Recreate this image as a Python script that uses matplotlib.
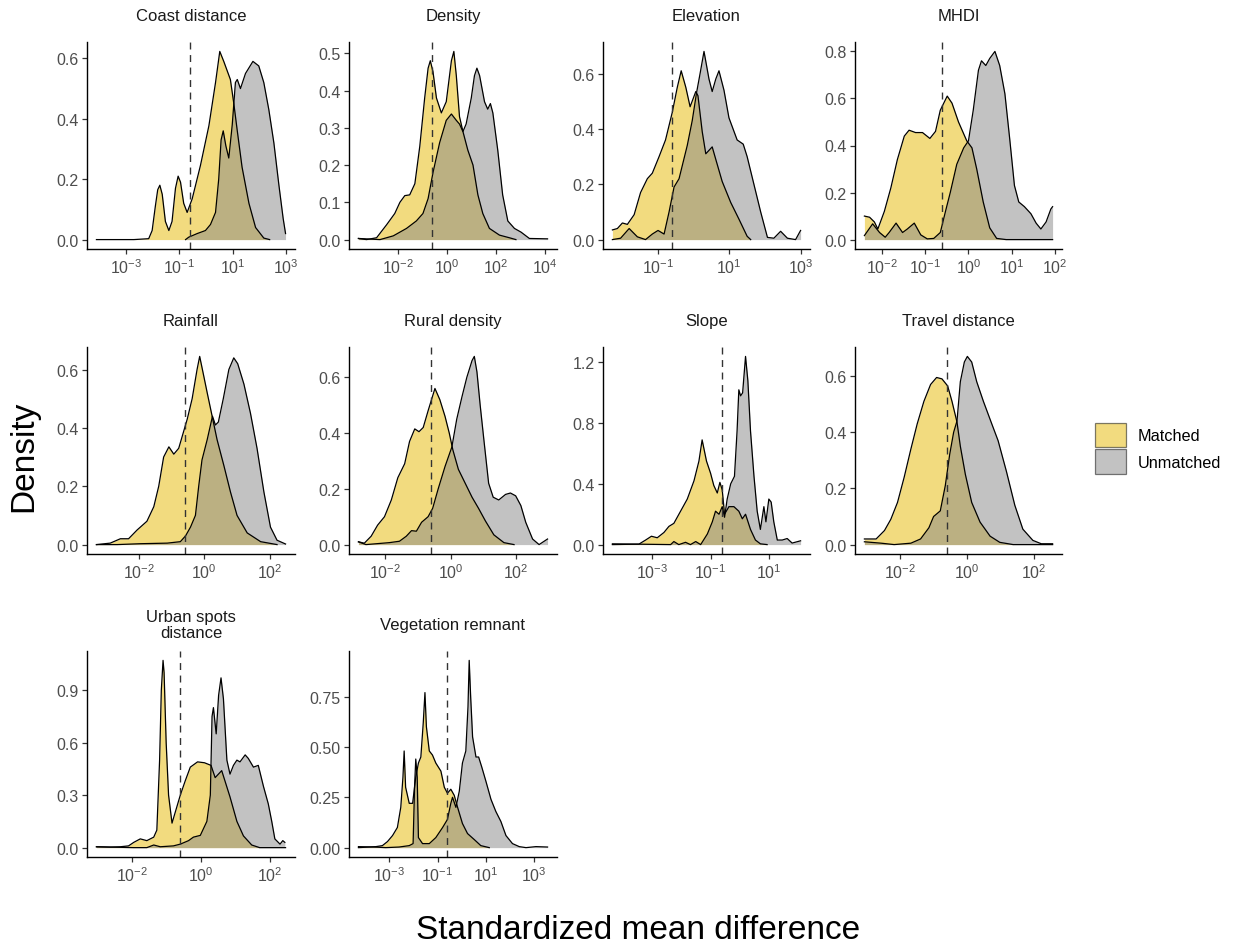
import matplotlib
matplotlib.use("Agg")
import matplotlib.pyplot as plt
import numpy as np
from matplotlib.patches import Patch

plt.rcParams['font.family'] = ['Liberation Sans', 'DejaVu Sans']
plt.rcParams['mathtext.fontset'] = 'custom'
plt.rcParams['mathtext.rm'] = 'Liberation Sans'
plt.rcParams['mathtext.it'] = 'Liberation Sans:italic'
plt.rcParams['mathtext.bf'] = 'Liberation Sans:bold'

# x values are log10(standardized mean difference), y values are density
coast_m_x = [-4.13, -2.72, -2.16, -2.03, -1.91, -1.82, -1.74, -1.65, -1.53, -1.40, -1.28, -1.15, -1.05, -0.96, -0.84,
             -0.71, -0.52, -0.21, 0.11, 0.36, 0.52, 0.67, 0.92, 1.05, 1.18, 1.36, 1.62, 1.87, 2.18, 2.40]
coast_m_y = [0.0, 0.0, 0.003, 0.03, 0.11, 0.165, 0.18, 0.15, 0.06, 0.03, 0.06, 0.17, 0.21, 0.19, 0.12,
             0.09, 0.135, 0.245, 0.377, 0.52, 0.623, 0.59, 0.53, 0.45, 0.36, 0.24, 0.12, 0.04, 0.005, 0.0]
coast_u_x = [-0.77, -0.65, -0.33, -0.02, 0.17, 0.36, 0.48, 0.57, 0.65, 0.75, 0.86, 0.99, 1.11, 1.18, 1.30, 1.49,
             1.77, 1.99, 2.18, 2.37, 2.56, 2.75, 2.91, 3.00]
coast_u_y = [0.0, 0.008, 0.02, 0.03, 0.05, 0.09, 0.2, 0.33, 0.36, 0.31, 0.27, 0.38, 0.52, 0.53, 0.50, 0.55,
             0.59, 0.575, 0.52, 0.43, 0.32, 0.18, 0.07, 0.02]

dens_m_x = [-3.62, -3.29, -2.88, -2.47, -2.14, -1.93, -1.73, -1.53, -1.32, -1.12, -0.92, -0.78, -0.69, -0.58, -0.44,
            -0.24, -0.04, 0.17, 0.27, 0.37, 0.50, 0.64, 0.84, 1.05, 1.25, 1.45, 1.72, 2.13, 2.53, 2.80]
dens_m_y = [0.003, 0.0, 0.005, 0.04, 0.07, 0.1, 0.118, 0.12, 0.15, 0.25, 0.38, 0.46, 0.48, 0.45, 0.38,
            0.34, 0.37, 0.48, 0.505, 0.44, 0.33, 0.29, 0.24, 0.2, 0.12, 0.07, 0.03, 0.012, 0.005, 0.0]
dens_u_x = [-3.62, -2.74, -2.20, -1.66, -1.26, -0.99, -0.78, -0.58, -0.31, -0.04, 0.17, 0.37, 0.50, 0.64, 0.77,
            0.98, 1.11, 1.21, 1.32, 1.52, 1.65, 1.76, 1.86, 2.06, 2.26, 2.47, 2.74, 3.01, 3.35, 4.09]
dens_u_y = [0.003, 0.0, 0.01, 0.03, 0.05, 0.07, 0.11, 0.18, 0.26, 0.32, 0.337, 0.32, 0.31, 0.29, 0.31,
            0.38, 0.44, 0.46, 0.44, 0.37, 0.35, 0.365, 0.34, 0.24, 0.12, 0.05, 0.03, 0.02, 0.003, 0.002]

elev_m_x = [-2.28, -2.14, -2.0, -1.86, -1.67, -1.49, -1.30, -1.16, -0.97, -0.79, -0.60, -0.46, -0.35, -0.22, -0.10,
            0.06, 0.12, 0.24, 0.34, 0.52, 0.62, 0.80, 1.04, 1.27, 1.50, 1.60]
elev_m_y = [0.035, 0.04, 0.06, 0.055, 0.09, 0.17, 0.22, 0.24, 0.30, 0.36, 0.46, 0.55, 0.61, 0.55, 0.48,
            0.535, 0.52, 0.39, 0.31, 0.335, 0.29, 0.21, 0.134, 0.074, 0.012, 0.0]
elev_u_x = [-2.28, -2.05, -1.81, -1.58, -1.35, -1.16, -1.0, -0.83, -0.69, -0.55, -0.41, -0.18, -0.04, 0.08, 0.18,
            0.29, 0.43, 0.52, 0.62, 0.71, 0.85, 0.99, 1.22, 1.39, 1.50, 1.69, 1.88, 2.07, 2.25, 2.44, 2.63, 2.86, 3.0]
elev_u_y = [0.0, 0.005, 0.04, 0.01, 0.0, 0.02, 0.033, 0.02, 0.1, 0.19, 0.22, 0.34, 0.43, 0.53, 0.6,
            0.68, 0.58, 0.535, 0.58, 0.61, 0.54, 0.44, 0.36, 0.345, 0.3, 0.2, 0.1, 0.008, 0.005, 0.03, 0.005, 0.0, 0.033]

mhdi_m_x = [-2.40, -2.28, -2.17, -2.09, -1.94, -1.79, -1.64, -1.48, -1.37, -1.22, -1.06, -0.89, -0.76, -0.65, -0.49,
            -0.38, -0.23, -0.04, 0.08, 0.19, 0.34, 0.49, 0.65, 0.87, 1.94]
mhdi_m_y = [0.10, 0.095, 0.075, 0.045, 0.12, 0.22, 0.34, 0.44, 0.465, 0.455, 0.455, 0.43, 0.46, 0.55, 0.61,
            0.58, 0.5, 0.42, 0.39, 0.3, 0.16, 0.05, 0.005, 0.0, 0.0]
mhdi_u_x = [-2.40, -2.21, -2.05, -1.92, -1.83, -1.67, -1.52, -1.41, -1.25, -1.10, -0.95, -0.80, -0.65, -0.53, -0.42,
            -0.27, -0.11, 0.0, 0.11, 0.23, 0.30, 0.40, 0.49, 0.61, 0.72, 0.84, 0.95, 1.06, 1.16, 1.29, 1.44, 1.56,
            1.67, 1.79, 1.90, 1.94]
mhdi_u_y = [0.017, 0.067, 0.03, 0.01, 0.03, 0.07, 0.03, 0.045, 0.07, 0.02, 0.003, 0.005, 0.03, 0.12, 0.2,
            0.32, 0.39, 0.42, 0.55, 0.72, 0.76, 0.74, 0.77, 0.80, 0.74, 0.62, 0.43, 0.23, 0.16, 0.14, 0.11, 0.07,
            0.045, 0.075, 0.13, 0.14]

rain_m_x = [-3.29, -2.87, -2.56, -2.31, -2.05, -1.75, -1.54, -1.39, -1.24, -1.08, -0.93, -0.78, -0.65, -0.52, -0.37,
            -0.22, -0.14, -0.02, 0.09, 0.24, 0.39, 0.60, 0.80, 1.0, 1.31, 1.72, 2.22]
rain_m_y = [0.0, 0.005, 0.02, 0.02, 0.05, 0.08, 0.13, 0.2, 0.3, 0.335, 0.31, 0.33, 0.38, 0.43, 0.5,
            0.6, 0.645, 0.58, 0.52, 0.44, 0.36, 0.27, 0.18, 0.1, 0.04, 0.01, 0.0]
rain_u_x = [-3.29, -2.66, -1.95, -1.13, -0.73, -0.57, -0.42, -0.27, -0.17, -0.07, 0.09, 0.25, 0.34, 0.43, 0.58,
            0.75, 0.90, 1.02, 1.21, 1.41, 1.61, 1.82, 2.02, 2.22, 2.48]
rain_u_y = [0.0, 0.0, 0.003, 0.005, 0.01, 0.03, 0.06, 0.1, 0.2, 0.29, 0.36, 0.44, 0.41, 0.42, 0.5,
            0.6, 0.64, 0.62, 0.55, 0.45, 0.33, 0.18, 0.06, 0.015, 0.002]

rural_m_x = [-2.83, -2.65, -2.44, -2.24, -2.03, -1.82, -1.62, -1.41, -1.26, -1.10, -0.97, -0.84, -0.69, -0.48, -0.33,
             -0.17, -0.04, 0.07, 0.24, 0.45, 0.66, 0.86, 1.07, 1.33, 1.64, 1.95]
rural_m_y = [0.01, 0.005, 0.03, 0.07, 0.1, 0.16, 0.24, 0.29, 0.37, 0.415, 0.405, 0.42, 0.48, 0.56, 0.52,
             0.46, 0.4, 0.34, 0.27, 0.22, 0.17, 0.13, 0.085, 0.035, 0.007, 0.0]
rural_u_x = [-2.83, -2.60, -2.29, -1.88, -1.57, -1.36, -1.20, -1.05, -0.89, -0.69, -0.55, -0.38, -0.17, 0.04, 0.19,
             0.35, 0.50, 0.66, 0.73, 0.81, 0.91, 1.02, 1.17, 1.31, 1.48, 1.69, 1.84, 2.0, 2.16, 2.31, 2.52, 2.72, 2.98]
rural_u_y = [0.01, 0.0, 0.003, 0.007, 0.012, 0.03, 0.05, 0.048, 0.08, 0.1, 0.13, 0.2, 0.28, 0.35, 0.45,
             0.53, 0.6, 0.66, 0.675, 0.62, 0.5, 0.38, 0.22, 0.17, 0.16, 0.18, 0.185, 0.175, 0.14, 0.08, 0.02, 0.0, 0.02]

slope_m_x = [-4.37, -3.46, -3.23, -3.03, -2.83, -2.60, -2.43, -2.26, -2.03, -1.80, -1.57, -1.40, -1.29, -1.14, -1.0,
             -0.89, -0.77, -0.68, -0.60, -0.52, -0.37, -0.20, -0.03, 0.09, 0.20, 0.37, 0.54, 0.71, 0.94]
slope_m_y = [0.0, 0.003, 0.03, 0.055, 0.045, 0.08, 0.12, 0.14, 0.22, 0.3, 0.42, 0.55, 0.69, 0.55, 0.47,
             0.39, 0.34, 0.41, 0.36, 0.2, 0.25, 0.25, 0.22, 0.17, 0.2, 0.1, 0.03, 0.005, 0.0]
slope_u_x = [-4.37, -2.37, -2.26, -2.09, -1.86, -1.69, -1.51, -1.34, -1.11, -0.94, -0.83, -0.71, -0.60, -0.52, -0.43,
             -0.31, -0.18, -0.09, -0.03, 0.03, 0.10, 0.20, 0.28, 0.37, 0.49, 0.60, 0.71, 0.83, 0.90, 1.0, 1.08, 1.17,
             1.29, 1.46, 1.63, 1.80, 2.09]
slope_u_y = [0.005, 0.0, 0.02, 0.0, 0.015, 0.0, 0.02, 0.0, 0.07, 0.15, 0.22, 0.2, 0.25, 0.18, 0.3,
             0.4, 0.45, 0.75, 1.02, 0.98, 1.0, 1.24, 1.08, 0.75, 0.45, 0.22, 0.1, 0.25, 0.15, 0.3, 0.28, 0.15,
             0.03, 0.03, 0.04, 0.01, 0.025]

travel_m_x = [-3.07, -2.72, -2.47, -2.28, -2.08, -1.88, -1.68, -1.49, -1.29, -1.09, -0.91, -0.75, -0.58, -0.45, -0.30,
              -0.20, -0.05, 0.14, 0.39, 0.69, 0.98, 1.38, 2.56]
travel_m_y = [0.02, 0.02, 0.05, 0.09, 0.15, 0.24, 0.34, 0.43, 0.51, 0.57, 0.595, 0.59, 0.565, 0.51, 0.436,
              0.35, 0.25, 0.15, 0.08, 0.03, 0.008, 0.0, 0.0]
travel_u_x = [-3.07, -2.57, -2.18, -1.68, -1.39, -1.14, -1.0, -0.80, -0.65, -0.52, -0.40, -0.30, -0.20, -0.08, 0.01,
              0.14, 0.29, 0.49, 0.74, 0.93, 1.18, 1.43, 1.67, 1.97, 2.22, 2.56]
travel_u_y = [0.01, 0.005, 0.0, 0.005, 0.02, 0.06, 0.1, 0.12, 0.21, 0.32, 0.4, 0.44, 0.58, 0.65, 0.67,
              0.65, 0.58, 0.51, 0.43, 0.37, 0.26, 0.14, 0.055, 0.015, 0.003, 0.003]

urban_m_x = [-3.03, -2.63, -2.34, -2.10, -1.95, -1.76, -1.57, -1.37, -1.28, -1.20, -1.15, -1.10, -1.07, -1.01, -0.94,
             -0.84, -0.75, -0.60, -0.46, -0.31, -0.10, 0.10, 0.29, 0.41, 0.60, 0.84, 1.04, 1.23, 1.47, 1.70, 2.45]
urban_m_y = [0.005, 0.003, 0.005, 0.01, 0.03, 0.05, 0.04, 0.06, 0.1, 0.5, 0.9, 1.07, 1.0, 0.6, 0.3,
             0.14, 0.2, 0.3, 0.38, 0.46, 0.49, 0.485, 0.47, 0.40, 0.44, 0.29, 0.15, 0.067, 0.015, 0.0, 0.0]
urban_u_x = [-3.03, -1.95, -1.57, -1.37, -1.18, -0.80, -0.60, -0.36, -0.22, -0.02, 0.17, 0.27, 0.32, 0.36, 0.44,
             0.51, 0.58, 0.65, 0.75, 0.84, 0.94, 1.04, 1.13, 1.28, 1.37, 1.52, 1.66, 1.81, 1.95, 2.05, 2.14, 2.29,
             2.37, 2.43]
urban_u_y = [0.005, 0.0, 0.0, 0.015, 0.005, 0.01, 0.02, 0.04, 0.06, 0.07, 0.15, 0.3, 0.75, 0.8, 0.65,
             0.87, 0.97, 0.85, 0.5, 0.42, 0.47, 0.5, 0.49, 0.53, 0.51, 0.46, 0.47, 0.35, 0.25, 0.15, 0.05, 0.02,
             0.04, 0.03]

veg_m_x = [-4.27, -3.55, -3.28, -3.07, -2.86, -2.66, -2.52, -2.43, -2.38, -2.32, -2.17, -2.03, -1.90, -1.79, -1.69,
           -1.59, -1.52, -1.46, -1.34, -1.21, -1.07, -0.86, -0.72, -0.59, -0.45, -0.31, -0.17, 0.03, 0.24, 0.52,
           0.79, 1.14]
veg_m_y = [0.0, 0.005, 0.01, 0.03, 0.06, 0.1, 0.2, 0.35, 0.48, 0.3, 0.22, 0.22, 0.35, 0.42, 0.45,
           0.62, 0.77, 0.6, 0.48, 0.46, 0.42, 0.38, 0.3, 0.27, 0.29, 0.26, 0.2, 0.12, 0.07, 0.04,
           0.01, 0.0]
veg_u_x = [-4.27, -3.62, -3.14, -2.59, -2.17, -2.01, -1.95, -1.90, -1.84, -1.79, -1.62, -1.34, -1.07, -0.79, -0.59,
           -0.45, -0.38, -0.24, -0.10, 0.03, 0.17, 0.26, 0.31, 0.37, 0.45, 0.59, 0.70, 0.83, 1.0, 1.21, 1.41, 1.62,
           1.83, 2.10, 2.38, 2.66, 3.07, 3.55]
veg_u_y = [0.005, 0.003, 0.0, 0.003, 0.01, 0.02, 0.3, 0.44, 0.35, 0.05, 0.02, 0.02, 0.05, 0.1, 0.14,
           0.22, 0.25, 0.2, 0.28, 0.42, 0.48, 0.7, 0.93, 0.75, 0.55, 0.45, 0.45, 0.4, 0.33, 0.24, 0.18, 0.13,
           0.06, 0.02, 0.005, 0.0, 0.005, 0.003]

titles = ["Coast distance", "Density", "Elevation", "MHDI", "Rainfall", "Rural density", "Slope",
          "Travel distance", "Urban spots\ndistance", "Vegetation remnant"]
x_ticks = [[-3, -1, 1, 3], [-2, 0, 2, 4], [-1, 1, 3], [-2, -1, 0, 1, 2], [-2, 0, 2],
           [-2, 0, 2], [-3, -1, 1], [-2, 0, 2], [-2, 0, 2], [-3, -1, 1, 3]]
y_ticks = [[0, 0.2, 0.4, 0.6], [0, 0.1, 0.2, 0.3, 0.4, 0.5], [0, 0.2, 0.4, 0.6], [0, 0.2, 0.4, 0.6, 0.8],
           [0, 0.2, 0.4, 0.6], [0, 0.2, 0.4, 0.6], [0, 0.4, 0.8, 1.2], [0, 0.2, 0.4, 0.6],
           [0, 0.3, 0.6, 0.9], [0, 0.25, 0.5, 0.75]]
y_decimals = [1, 1, 1, 1, 1, 1, 1, 1, 1, 2]
threshold = 0.25

matched = [(coast_m_x, coast_m_y), (dens_m_x, dens_m_y), (elev_m_x, elev_m_y), (mhdi_m_x, mhdi_m_y),
           (rain_m_x, rain_m_y), (rural_m_x, rural_m_y), (slope_m_x, slope_m_y), (travel_m_x, travel_m_y),
           (urban_m_x, urban_m_y), (veg_m_x, veg_m_y)]
unmatched = [(coast_u_x, coast_u_y), (dens_u_x, dens_u_y), (elev_u_x, elev_u_y), (mhdi_u_x, mhdi_u_y),
             (rain_u_x, rain_u_y), (rural_u_x, rural_u_y), (slope_u_x, slope_u_y), (travel_u_x, travel_u_y),
             (urban_u_x, urban_u_y), (veg_u_x, veg_u_y)]

col_matched = "#E7B800"
col_unmatched = "#868686"

# panel grid in pixels (figure is 1238 x 945)
W, H = 1238, 945
col_left = [87, 349, 603, 855]
col_right = [295, 557, 810, 1062]
row_top = [43, 348, 652]
row_bottom = [250, 555, 858]

fig = plt.figure(figsize=(W / 100, H / 100), dpi=100)

for i, title in enumerate(titles):
    r, c = divmod(i, 4)
    ax = fig.add_axes([col_left[c] / W, 1 - row_bottom[r] / H,
                       (col_right[c] - col_left[c]) / W, (row_bottom[r] - row_top[r]) / H])
    ax.set_xscale('log')

    # matched first, unmatched on top (both half transparent)
    for (lx, dy), col in [(matched[i], col_matched), (unmatched[i], col_unmatched)]:
        xs = 10.0 ** np.array(lx)
        ax.fill_between(xs, dy, 0, color=col, alpha=0.5, lw=0)
        ax.plot(xs, dy, color='black', lw=0.9, solid_joinstyle='round')

    ax.axvline(threshold, color='#333333', lw=1.0, dashes=(5, 4))

    # ggplot style 5% expansion
    allx = list(matched[i][0]) + list(unmatched[i][0])
    lo, hi = min(allx), max(allx)
    pad = 0.05 * (hi - lo)
    ax.set_xlim(10 ** (lo - pad), 10 ** (hi + pad))
    top = max(max(matched[i][1]), max(unmatched[i][1]))
    ax.set_ylim(-0.05 * top, 1.05 * top)

    ax.set_xticks([10.0 ** t for t in x_ticks[i]])
    ax.set_xticklabels([r'$10^{%d}$' % t for t in x_ticks[i]])
    ax.minorticks_off()
    ax.set_yticks(y_ticks[i])
    ax.set_yticklabels([f"{v:.{y_decimals[i]}f}" for v in y_ticks[i]])

    for s in ['top', 'right']:
        ax.spines[s].set_visible(False)
    for s in ['left', 'bottom']:
        ax.spines[s].set_color('black')
        ax.spines[s].set_linewidth(1.0)
    ax.tick_params(axis='both', colors='#333333', length=3.5, width=0.9, labelsize=11.5,
                   labelcolor='#4D4D4D', pad=2.5)

    ax.annotate(title, xy=(0.5, 1), xycoords='axes fraction', xytext=(0, 19), textcoords='offset points',
                ha='center', va='center', fontsize=12, color='#1A1A1A', linespacing=1.05)

fig.text(24 / W, 1 - 456 / H, 'Density', rotation=90, ha='center', va='center', fontsize=24)
fig.text(638 / W, 1 - 931 / H, 'Standardized mean difference', ha='center', va='center', fontsize=24)

handles = [Patch(facecolor=col_matched, alpha=0.5, edgecolor='black', lw=0.9, label='Matched'),
           Patch(facecolor=col_unmatched, alpha=0.5, edgecolor='black', lw=0.9, label='Unmatched')]
fig.legend(handles=handles, loc='upper left', bbox_to_anchor=(1095 / W, 1 - 424 / H), frameon=False,
           fontsize=11.7, handlelength=1.9, handleheight=1.9, handletextpad=0.74, labelspacing=0.15,
           borderpad=0, borderaxespad=0)

fig.savefig('out.png', dpi=100)
